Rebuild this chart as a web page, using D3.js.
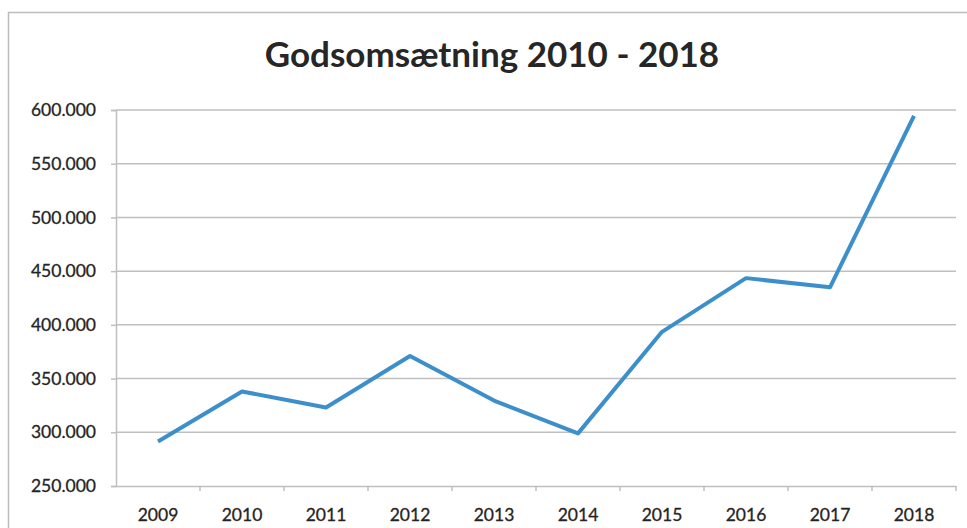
<!DOCTYPE html>
<html>
<head>
<meta charset="utf-8">
<script src="https://cdn.jsdelivr.net/npm/d3@7"></script>
<style>
  body { margin: 0; background: #fff; }
  text { font-family: Lato, "Open Sans", sans-serif; fill: #262626; }
</style>
</head>
<body>
<div id="chart"></div>
<script>
const years = ["2009", "2010", "2011", "2012", "2013", "2014", "2015", "2016", "2017", "2018"];
const values = [291500, 338000, 323000, 371000, 329500, 299000, 393500, 443500, 435000, 594500];
const yTicks = [250000, 300000, 350000, 400000, 450000, 500000, 550000, 600000];

const width = 967;
const height = 528;
const margin = { top: 110, right: 11, bottom: 42, left: 116 };

const svg = d3.create("svg")
    .attr("width", width)
    .attr("height", height);

// chart frame
svg.append("rect")
    .attr("x", 8.5)
    .attr("y", 12.5)
    .attr("width", width + 10)
    .attr("height", height)
    .attr("fill", "none")
    .attr("stroke", "#bdbdbd")
    .attr("stroke-width", 1.5);

const x = d3.scaleBand()
    .domain(years)
    .range([margin.left, width - margin.right]);

const y = d3.scaleLinear()
    .domain([250000, 600000])
    .range([height - margin.bottom, margin.top]);

const fmt = d => d3.format(",")(d).replace(/,/g, ".");

// gridlines
svg.append("g")
    .selectAll("line")
    .data(yTicks.slice(1))
    .join("line")
    .attr("x1", margin.left)
    .attr("x2", width - margin.right)
    .attr("y1", d => y(d))
    .attr("y2", d => y(d))
    .attr("stroke", "#bfbfbf")
    .attr("stroke-width", 1.5);

const yAxis = svg.append("g")
    .attr("transform", `translate(${margin.left},0)`)
    .call(d3.axisLeft(y).tickValues(yTicks).tickFormat(fmt).tickSize(5).tickPadding(15));

const xAxis = svg.append("g")
    .attr("transform", `translate(0,${height - margin.bottom})`)
    .call(d3.axisBottom(x).tickSize(0).tickPadding(23));

// category boundary ticks
svg.append("g")
    .selectAll("line")
    .data(years.slice(1).concat(["end"]))
    .join("line")
    .attr("x1", (d, i) => margin.left + (i + 1) * x.step())
    .attr("x2", (d, i) => margin.left + (i + 1) * x.step())
    .attr("y1", height - margin.bottom)
    .attr("y2", height - margin.bottom + 5)
    .attr("stroke", "#bfbfbf")
    .attr("stroke-width", 1.5);

[yAxis, xAxis].forEach(ax => {
    ax.selectAll(".domain").attr("stroke", "#bfbfbf").attr("stroke-width", 1.5);
    ax.selectAll(".tick line").attr("stroke", "#bfbfbf").attr("stroke-width", 1.5);
    ax.selectAll("text").attr("font-size", "17.5px").attr("fill", "#1f1f1f")
        .attr("stroke", "#1f1f1f").attr("stroke-width", 0.3)
        .attr("font-family", "Lato, 'Open Sans', sans-serif");
});

const line = d3.line()
    .x((d, i) => x(years[i]) + x.bandwidth() / 2)
    .y(d => y(d));

svg.append("path")
    .datum(values)
    .attr("d", line)
    .attr("fill", "none")
    .attr("stroke", "#3c8fca")
    .attr("stroke-width", 4)
    .attr("stroke-linejoin", "round");

svg.append("text")
    .attr("x", 492)
    .attr("y", 67)
    .attr("text-anchor", "middle")
    .attr("font-size", "35px")
    .attr("font-weight", "bold")
    .text("Godsomsætning 2010 - 2018");

d3.select("#chart").node().append(svg.node());
</script>
</body>
</html>
